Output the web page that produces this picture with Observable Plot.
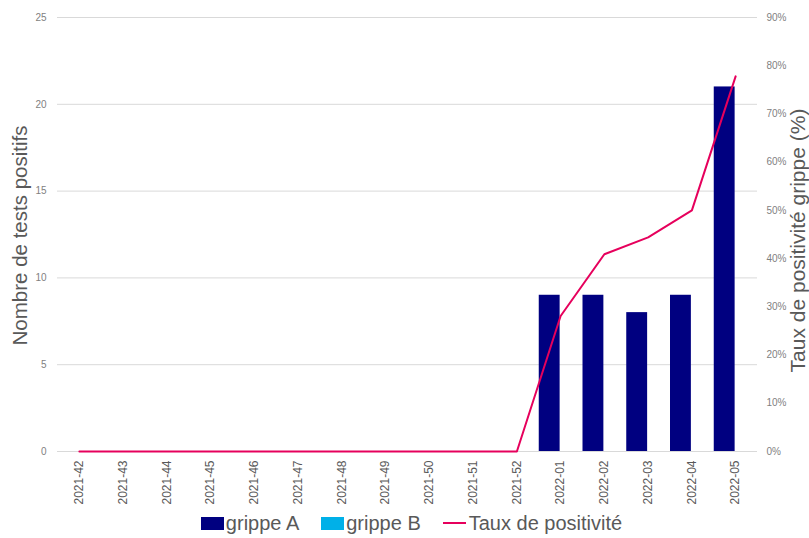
<!DOCTYPE html>
<html><head><meta charset="utf-8">
<script src="https://cdn.jsdelivr.net/npm/d3@7"></script>
<script src="https://cdn.jsdelivr.net/npm/@observablehq/plot@0.6"></script>
<style>
body{margin:0;background:#fff;font-family:Arial,"Liberation Sans",sans-serif;}
#legend{display:flex;justify-content:center;align-items:center;height:30px;font-size:20px;color:#595959;padding-left:14px;}
.item{display:flex;align-items:center;margin:0 11px;}
.sw{width:23px;height:13px;margin-right:2px;}
.ln{width:23px;height:2px;margin-right:3px;}
</style></head><body><div id="chart"></div><div id="legend"></div>
<script>
const weeks = ["2021-42","2021-43","2021-44","2021-45","2021-46","2021-47","2021-48","2021-49","2021-50","2021-51","2021-52","2022-01","2022-02","2022-03","2022-04","2022-05"];
const grippeA = [0,0,0,0,0,0,0,0,0,0,0,9,9,8,9,21];
const grippeB = [0,0,0,0,0,0,0,0,0,0,0,0,0,0,0,0];
const tauxPositivite = [0,0,0,0,0,0,0,0,0,0,0,28.1,40.9,44.4,50,77.8];
const leftTicks = [0,5,10,15,20,25];
const rightTicks = [0,10,20,30,40,50,60,70,80,90];
const yMax = 25, pctMax = 90;
const colA = "#000080", colB = "#00B0E8", colLine = "#E6005C";

const data = weeks.map((w,i)=>({week:w, A:grippeA[i], B:grippeB[i], rate:tauxPositivite[i]}));
const W = 809, H = 508, mL = 57, mR = 52, mT = 17, mB = 57;
const bw = (W - mL - mR) / weeks.length;
const toLeft = p => p * yMax / pctMax;

const chart = Plot.plot({
  width: W, height: H,
  marginLeft: mL, marginRight: mR, marginTop: mT, marginBottom: mB,
  style: {fontFamily: 'Arial, "Liberation Sans", sans-serif', background: "#fff"},
  x: {type: "band", domain: weeks, padding: 0, round: false},
  y: {domain: [0, yMax]},
  marks: [
    Plot.gridY(leftTicks, {stroke: "#d9d9d9", strokeOpacity: 1}),
    Plot.barY(data, {x: "week", y: "A", fill: colA, insetLeft: 0.5, insetRight: bw/2 + 0.5}),
    Plot.barY(data, {x: "week", y: "B", fill: colB, insetLeft: bw/2 + 0.5, insetRight: 0.5}),
    Plot.line(data, {x: "week", y: d => toLeft(d.rate), stroke: colLine, strokeWidth: 2}),
    Plot.axisX({tickRotate: -90, tickSize: 0, tickPadding: 9, fontSize: 12, color: "#595959", label: null}),
    Plot.axisY(leftTicks, {anchor: "left", tickSize: 0, tickPadding: 11, fontSize: 10, color: "#7f7f7f", label: null}),
    Plot.axisY(rightTicks.map(toLeft), {anchor: "right", tickSize: 0, tickPadding: 9, fontSize: 10, color: "#7f7f7f", label: null,
      tickFormat: d => Math.round(d * pctMax / yMax) + "%"}),
    Plot.text(["Nombre de tests positifs"], {frameAnchor: "left", textAnchor: "middle", rotate: -90, dx: -37, dy: 1, fontSize: 20.5, fill: "#595959"}),
    Plot.text(["Taux de positivité grippe (%)"], {frameAnchor: "right", textAnchor: "middle", rotate: -90, dx: 41, dy: 6, fontSize: 21, fill: "#595959"})
  ]
});
document.getElementById("chart").appendChild(chart);

const legendItems = [
  {label: "grippe A", color: colA, kind: "sw"},
  {label: "grippe B", color: colB, kind: "sw"},
  {label: "Taux de positivité", color: colLine, kind: "ln"}
];
const lg = document.getElementById("legend");
legendItems.forEach(it => {
  const d = document.createElement("div"); d.className = "item";
  const s = document.createElement("span"); s.className = it.kind; s.style.background = it.color;
  const t = document.createElement("span"); t.textContent = it.label;
  d.appendChild(s); d.appendChild(t); lg.appendChild(d);
});
</script></body></html>
